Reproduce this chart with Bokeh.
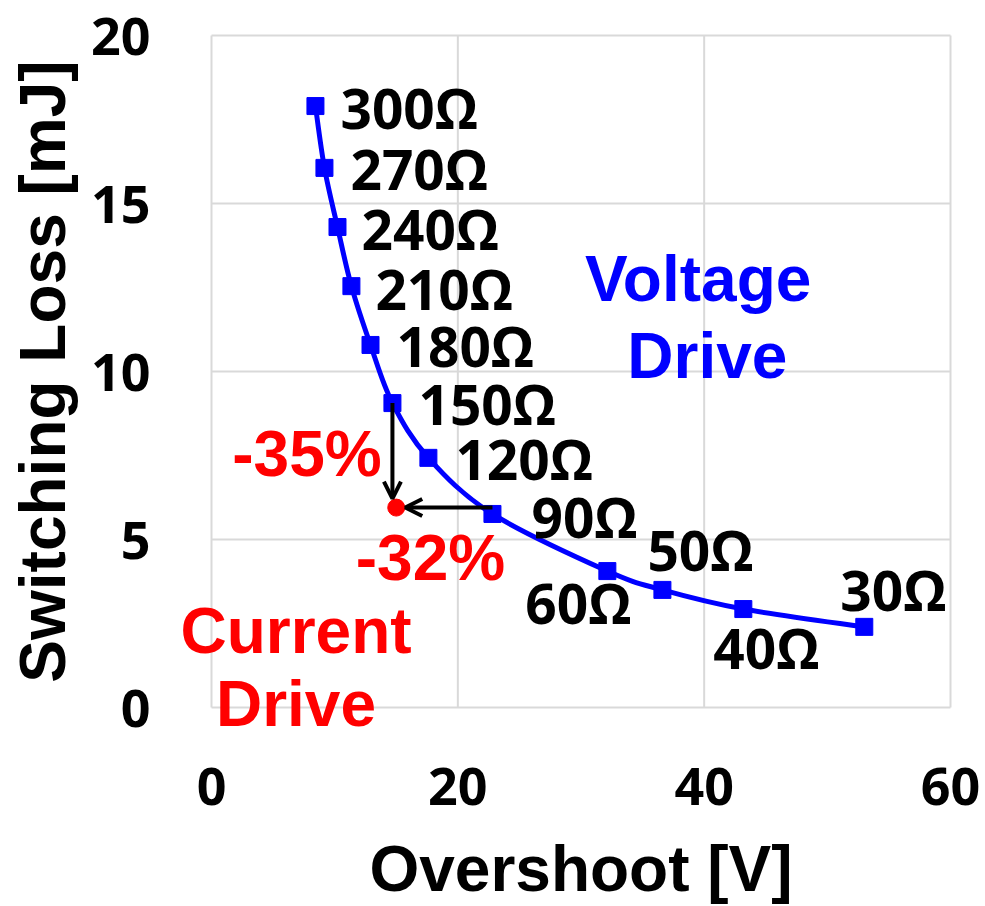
import math
from bokeh.plotting import figure
from bokeh.models import Arrow, OpenHead, Label, Range1d, ColumnDataSource
from bokeh.core.properties import value
from bokeh.embed import file_html
from bokeh.resources import INLINE

# Gate resistance sweep (voltage drive): overshoot [V] vs switching loss [mJ]
resistors = ["300Ω", "270Ω", "240Ω", "210Ω", "180Ω", "150Ω",
             "120Ω", "90Ω", "60Ω", "50Ω", "40Ω", "30Ω"]
overshoot = [8.44, 9.17, 10.23, 11.36, 12.91, 14.69,
             17.61, 22.81, 32.14, 36.61, 43.18, 53.0]
loss = [17.90, 16.06, 14.30, 12.54, 10.79, 9.06,
        7.43, 5.76, 4.06, 3.50, 2.93, 2.40]

# Current drive operating point
cd_overshoot = [15.0]
cd_loss = [5.95]

x_ticks = [0, 20, 40, 60]
y_ticks = [0, 5, 10, 15, 20]
x_title = "Overshoot [V]"
y_title = "Switching Loss [mJ]"

# Pixel offsets of each resistor label from its marker
label_dx = [25, 26, 24, 24, 26, 26, 27, 39, -82, -15, -30, -24]
label_dy = [1, 1, 1, 2, 1, 0, 1, 3, 31, -40, 38, -37]

BLUE = "#0000FF"
RED = "#FF0000"
GRID = "#D9D9D9"

W, H = 985, 906
# plot box inside the canvas (pixels)
LEFT, RIGHT, TOP, BOTTOM = 211, 950, 35, 707

xmin, xmax = x_ticks[0], x_ticks[-1]
ymin, ymax = y_ticks[0], y_ticks[-1]
xpp = (xmax - xmin) / (RIGHT - LEFT)
ypp = (ymax - ymin) / (BOTTOM - TOP)

p = figure(width=W, height=H, output_backend="svg", toolbar_location=None,
           x_axis_location=None, y_axis_location=None,
           x_range=Range1d(xmin - LEFT * xpp, xmax + (W - RIGHT) * xpp),
           y_range=Range1d(ymin - (H - BOTTOM) * ypp, ymax + TOP * ypp),
           min_border=0)
p.outline_line_color = None
p.background_fill_color = "white"
p.border_fill_color = "white"
for g in p.grid:
    g.visible = False

# Grid lines and plot box
p.segment(x0=x_ticks, y0=[ymin] * len(x_ticks), x1=x_ticks, y1=[ymax] * len(x_ticks),
          line_color=GRID, line_width=2)
p.segment(x0=[xmin] * len(y_ticks), y0=y_ticks, x1=[xmax] * len(y_ticks), y1=y_ticks,
          line_color=GRID, line_width=2)

# Tick labels
tick_font = dict(text_font=value("Open Sans"), text_font_style="bold",
                 text_font_size="52px", text_color="black")
p.text(x=x_ticks, y=[ymin] * len(x_ticks), text=[str(t) for t in x_ticks],
       text_align="center", text_baseline="alphabetic", y_offset=79, **tick_font)
p.text(x=[xmin] * len(y_ticks), y=y_ticks, text=[str(t) for t in y_ticks],
       text_align="right", text_baseline="alphabetic", x_offset=-61, y_offset=1,
       **tick_font)

# Axis titles
title_font = dict(text_font=value("Liberation Sans"), text_font_style="bold",
                  text_font_size="64px", text_color="black")
p.text(x=[(xmin + xmax) / 2], y=[ymin], text=[x_title], text_align="center",
       text_baseline="alphabetic", y_offset=161, **title_font)
p.text(x=[xmin], y=[(ymin + ymax) / 2], text=[y_title], text_align="center",
       text_baseline="alphabetic", angle=math.pi / 2, x_offset=-169, **title_font)

# Smoothed curve through the measured points (cubic Bezier segments)
n = len(overshoot)
seg = dict(x0=[], y0=[], x1=[], y1=[], cx0=[], cy0=[], cx1=[], cy1=[])
for i in range(n - 1):
    a = i - 1 if i > 0 else i
    d = i + 2 if i + 2 < n else i + 1
    seg["x0"].append(overshoot[i]); seg["y0"].append(loss[i])
    seg["x1"].append(overshoot[i + 1]); seg["y1"].append(loss[i + 1])
    seg["cx0"].append(overshoot[i] + (overshoot[i + 1] - overshoot[a]) / 6)
    seg["cy0"].append(loss[i] + (loss[i + 1] - loss[a]) / 6)
    seg["cx1"].append(overshoot[i + 1] - (overshoot[d] - overshoot[i]) / 6)
    seg["cy1"].append(loss[i + 1] - (loss[d] - loss[i]) / 6)
p.bezier(x0="x0", y0="y0", x1="x1", y1="y1", cx0="cx0", cy0="cy0",
         cx1="cx1", cy1="cy1", source=ColumnDataSource(seg),
         line_color=BLUE, line_width=5)

src = ColumnDataSource(dict(x=overshoot, y=loss, label=resistors,
                            dx=label_dx, dy=label_dy))
p.scatter("x", "y", source=src, marker="square", size=17,
          fill_color=BLUE, line_color=BLUE)
p.text("x", "y", text="label", source=src, x_offset="dx", y_offset="dy",
       text_font=value("Open Sans"), text_font_style="bold",
       text_font_size="55px", text_color="black",
       text_align="left", text_baseline="alphabetic")

# Arrows from the voltage-drive points to the current-drive point
head = dict(size=17, line_width=4, line_color="black")
p.add_layout(Arrow(end=OpenHead(**head),
                   x_start=overshoot[5], y_start=loss[5],
                   x_end=overshoot[5], y_end=cd_loss[0] + 9 * ypp,
                   line_color="black", line_width=4))
p.add_layout(Arrow(end=OpenHead(**head),
                   x_start=overshoot[7], y_start=cd_loss[0],
                   x_end=cd_overshoot[0] + 9 * xpp, y_end=cd_loss[0],
                   line_color="black", line_width=4))

p.scatter(cd_overshoot, cd_loss, marker="circle", size=17,
          fill_color=RED, line_color=RED)

def note(text, x, y, color):
    p.add_layout(Label(x=x, y=y, text=text, text_color=color,
                       text_font="Liberation Sans", text_font_style="bold",
                       text_font_size="64px", text_align="center",
                       text_baseline="alphabetic"))

note("-35%", 7.75, 7.54, RED)
note("-32%", 17.78, 4.45, RED)
note("Current", 6.86, 2.27, RED)
note("Drive", 6.86, 0.10, RED)
note("Voltage", 39.51, 12.75, BLUE)
note("Drive", 40.26, 10.46, BLUE)

open("out.html", "w").write(file_html(p, INLINE))
